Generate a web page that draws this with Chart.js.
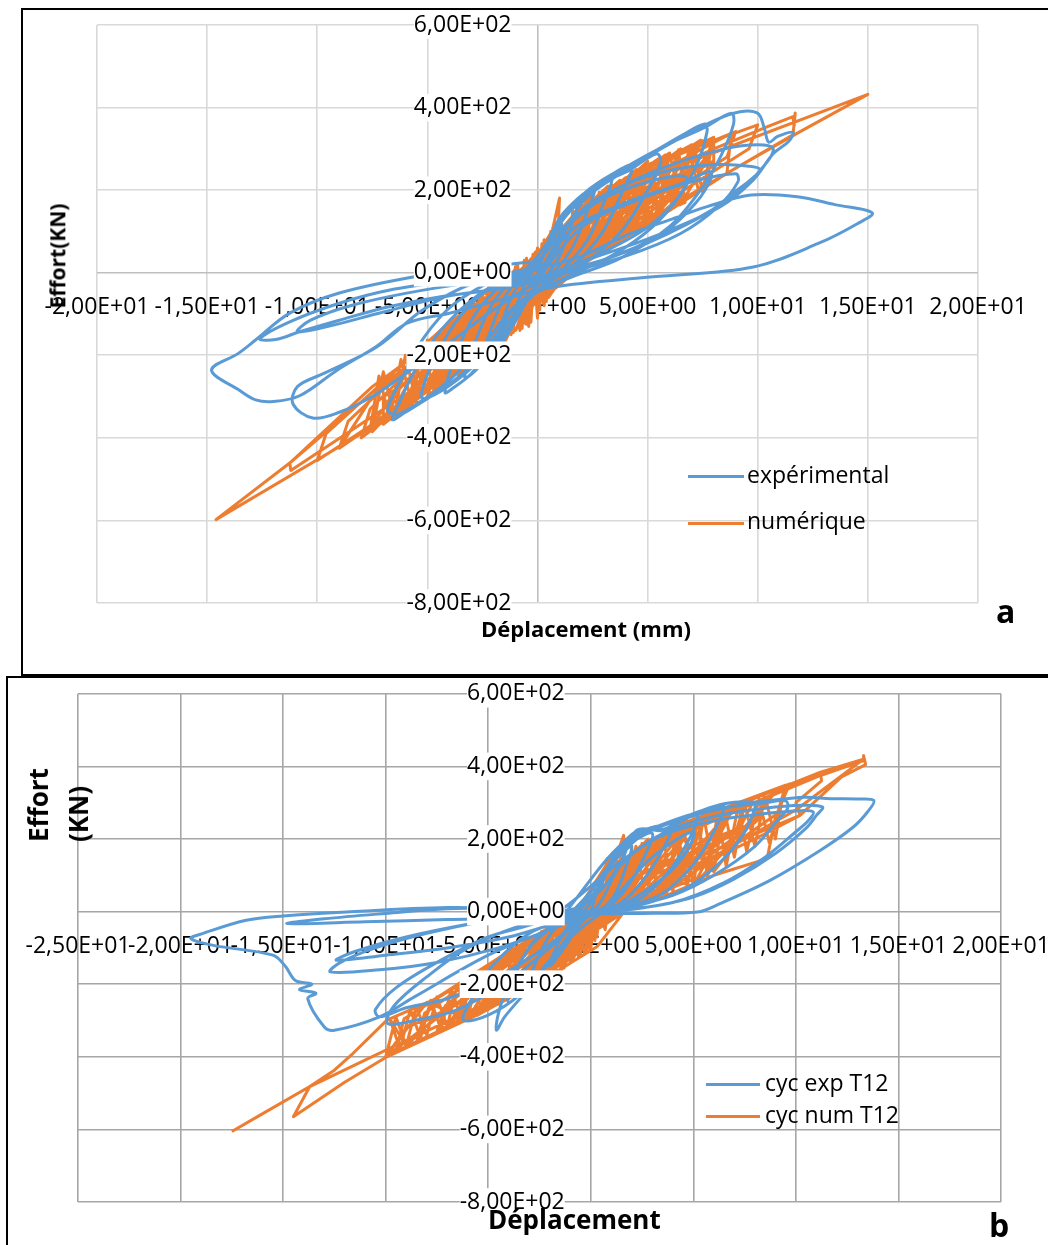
<!DOCTYPE html>
<html>
<head>
<meta charset="utf-8">
<script src="https://cdn.jsdelivr.net/npm/chart.js@4.4.1/dist/chart.umd.min.js"></script>
<style>
  body { margin: 0; width: 1048px; height: 1245px; overflow: hidden; background: #fff; position: relative; font-family: "Open Sans", sans-serif; color: #000; }
  .frame { position: absolute; border: 2px solid #000; box-sizing: border-box; }
  #frameA { left: 21px; top: 8px; width: 1100px; height: 668px; }
  #frameB { left: 6px; top: 676px; width: 1100px; height: 600px; }
  canvas { position: absolute; left: 0; }
  #chartA { top: 0; }
  #chartB { top: 677px; }
  .txt { position: absolute; white-space: nowrap; line-height: 1; }
  .bold { font-weight: 700; }
  .rot { transform: translate(-50%, -50%) rotate(-90deg); }
  .key { position: absolute; height: 3px; }
</style>
</head>
<body>
<div class="frame" id="frameA"></div>
<div class="frame" id="frameB"></div>
<canvas id="chartA" width="1048" height="660"></canvas>
<canvas id="chartB" width="1100" height="568"></canvas>

<!-- chart a captions -->
<div class="txt bold" style="left:481px; top:617px; font-size:22px;">Déplacement (mm)</div>
<div class="txt bold rot" style="left:58px; top:256px; font-size:21px; line-height:1.3;">Effort(KN)</div>
<div class="txt bold" style="left:996px; top:595px; font-size:32px;">a</div>
<div class="key" style="left:688px; top:475px; width:56px; background:#5b9bd5;"></div>
<div class="txt" style="left:747px; top:463px; font-size:23px;">expérimental</div>
<div class="key" style="left:688px; top:522px; width:56px; background:#ed7d31;"></div>
<div class="txt" style="left:747px; top:509px; font-size:23px;">numérique</div>

<!-- chart b captions -->
<div class="txt bold" style="left:488px; top:1206px; font-size:26px;">Déplacement</div>
<div class="txt bold rot" style="left:58px; top:805px; font-size:26px; line-height:40px; text-align:left; white-space:pre;">Effort
(KN)</div>
<div class="txt bold" style="left:989px; top:1209px; font-size:32px;">b</div>
<div class="key" style="left:706px; top:1083px; width:54px; background:#5b9bd5;"></div>
<div class="txt" style="left:765px; top:1071px; font-size:23px;">cyc exp T12</div>
<div class="key" style="left:706px; top:1115px; width:54px; background:#ed7d31;"></div>
<div class="txt" style="left:765px; top:1103px; font-size:23px;">cyc num T12</div>

<script>
// axis ranges [min, max, step]
const xTicksA = [-20, 20, 5];
const xTicksB = [-25, 20, 5];
const yTicks = [-800, 600, 200];

// chart a, experimental loops [displacement mm, effort kN]
const expA = [
  [0,0],[0.4,60],[0.8,100],[1.1,118],[0.9,80],[0.5,22],[0.1,-12],[-0.4,-55],[-0.9,-105],[-1.2,-128],[-1.0,-88],[-0.6,-30],[-0.2,4],
  [0.3,45],[0.8,108],[1.4,148],[1.8,163],[1.5,108],[1.0,40],[0.4,-8],[-0.3,-48],[-1.0,-118],[-1.6,-162],[-1.9,-174],[-1.6,-118],[-1.1,-50],[-0.5,-6],[0,12],
  [0.6,90],[1.3,150],[2.0,184],[2.6,204],[2.2,140],[1.6,62],[0.8,6],[0,-28],[-0.8,-98],[-1.6,-168],[-2.3,-204],[-2.6,-214],[-2.2,-150],[-1.6,-70],[-0.8,-12],[0,15],
  [0.8,112],[1.8,176],[2.7,210],[3.4,234],[3.0,168],[2.3,82],[1.2,12],[0,-30],[-1.0,-110],[-2.0,-186],[-2.8,-236],[-3.3,-254],[-2.9,-178],[-2.1,-80],[-1.1,-16],[0,20],
  [1.0,132],[2.2,196],[3.3,236],[4.3,260],[3.8,190],[3.0,102],[1.8,26],[0.5,-20],[-0.8,-82],[-1.9,-168],[-3.0,-244],[-3.8,-278],[-4.2,-290],[-3.7,-198],[-2.8,-98],[-1.5,-24],[0,22],
  [1.3,150],[2.6,210],[4.1,246],[5.4,288],[5.6,268],[4.9,190],[3.8,100],[2.2,26],[0.5,-24],[-1.2,-110],[-2.4,-198],[-3.7,-262],[-5.0,-304],[-5.3,-298],[-4.6,-200],[-3.4,-98],[-1.8,-24],[0,22],
  [1.5,158],[3.2,228],[5.0,284],[6.6,334],[7.6,360],[7.7,342],[7.3,270],[6.5,190],[5.2,110],[3.4,42],[1.2,-14],[-0.8,-70],[-2.0,-160],[-3.4,-244],[-4.8,-298],[-6.0,-338],[-6.6,-356],[-6.3,-318],[-5.6,-240],[-4.4,-140],[-2.6,-50],[-0.5,10],
  [1.5,150],[3.5,238],[5.8,308],[7.6,352],[8.8,386],[8.9,360],[8.3,280],[7.4,200],[6.0,112],[3.8,36],[1.2,-18],[-1.0,-80],[-2.5,-180],[-4.0,-260],[-5.2,-308],[-6.4,-344],[-6.8,-330],[-6.1,-250],[-5.2,-160],[-3.8,-76],[-1.5,-6],[0.5,28],
  [1.2,110],[3.0,180],[5.0,220],[6.5,235],[6.8,225],[6.2,170],[5.0,110],[3.0,50],[1.0,5],[0,-20],
  [1.5,100],[4.0,170],[6.5,215],[7.8,245],[7.9,230],[7.2,170],[5.8,100],[3.5,40],[1.0,0],[0,-25],
  [2.0,110],[4.5,175],[7.0,220],[9.0,240],[9.1,220],[8.2,160],[6.5,95],[4.0,40],[1.0,-5],[0,-20],
  [1.8,140],[4.0,214],[6.2,250],[8.2,262],[9.6,258],[10.1,250],[9.7,226],[9.05,200],[7.7,144],[5.3,80],[2.2,16],[0,-20],[-2.0,-42],[-4.0,-56],[-7.0,-95],[-9.5,-130],[-10.9,-143],[-10.3,-115],[-8.5,-80],[-6.0,-50],[-3.0,-24],[0,-4],
  [2.0,168],[4.0,248],[6.2,318],[8.0,368],[9.2,390],[10.0,386],[10.3,350],[10.5,316],[10.9,330],[11.6,340],[11.4,318],[10.7,288],[9.8,225],[8.3,160],[5.3,88],[2.2,30],[0,-12],[-2.0,-40],[-4.4,-58],[-6.7,-82],[-9.0,-115],[-10.8,-143],[-11.9,-162],[-12.6,-160],[-11.25,-119],[-9.0,-74],[-6.7,-42],[-3.7,-18],[-0.65,2],
  [1.5,120],[3.5,200],[6.0,260],[8.5,300],[10.0,310],[10.7,300],[10.3,260],[9.0,190],[6.5,110],[3.5,40],[0.5,-10],[-2.0,-90],[-4.0,-170],[-5.95,-243],[-7.5,-300],[-9.0,-338],[-10.2,-352],[-11.1,-318],[-10.9,-276],[-9.7,-244],[-7.3,-180],[-5.2,-90],[-2.9,-25],[0,10],
  [2.0,40],[4.0,90],[6.0,128],[7.7,160],[9.7,188],[11.8,184],[13.5,165],[15.2,145],[14.5,118],[12.8,72],[9.8,14],[5.25,-10],[0.7,-35],[-2.0,-70],[-4.0,-98],[-5.95,-123],[-7.3,-178],[-9.1,-236],[-10.8,-298],[-12.0,-312],[-12.8,-308],[-13.5,-286],[-14.8,-236],[-13.6,-196],[-12.8,-163],[-11.25,-98],[-9.0,-49],[-5.2,-6],[-2.0,16],[0,28]
];

// chart a, numerical response
const numA = [
  [0,0],[0.3,40],[-0.3,-60],[0.5,70],[-0.5,-80],[0.8,90],[-0.8,-100],[0.2,-10],[0.6,60],[-0.4,-30],
  [0.5,60],[1.0,181],[0.95,120],[0.6,30],[0.2,-20],[-0.4,-70],[-0.8,-120],[-0.6,-60],[-0.2,-10],[0.1,30],
  [0.6,70],[1.0,100],[1.8,150],[1.4,80],[1.5,95],[0.8,10],[0,-40],[-0.8,-90],[-1.5,-170],[-1.2,-100],[-1.3,-115],[-0.6,-30],[0,20],
  [1.0,90],[2.0,170],[1.6,110],[0.8,20],[0,-60],[-1.0,-110],[-2.0,-180],[-1.6,-120],[-0.8,-10],[0,40],
  [1.2,110],[1.8,140],[2.5,190],[2.0,110],[1.2,30],[0.5,-10],[0,-50],[-1.2,-120],[-2.2,-190],[-1.8,-110],[-1.0,-40],[-0.5,0],[0,30],
  [1.5,110],[3.0,200],[2.6,140],[1.2,30],[0,-60],[-1.5,-130],[-3.0,-215],[-2.6,-150],[-1.2,-15],[0,45],
  [-4,-260],[-3.8,-130],[-3.6,-245],[-3.4,-100],[-3.2,-225],[-3.0,-75],[-2.8,-210],[-2.6,-50],[-2.4,-195],[-2.2,-30],[-2.0,-180],[-1.8,-10],[-1.6,-165],[-1.4,0],[-1.2,-150],[-1.0,15],[-0.8,-140],[-0.6,30],[-0.4,-130],[-0.2,45],[0,-110],[0.2,70],[0.4,-70],[0.6,100],[0.8,-30],[1.0,130],
  [1.3,0],[1.6,150],[1.9,15],[2.2,175],[2.5,38],[2.8,195],[3.1,58],[3.4,212],[3.7,80],[4.0,230],[4.3,97],[4.6,250],[4.9,113],[5.2,266],[5.5,133],[5.8,284],[6.1,155],[6.4,298],[6.7,170],
  [1.1,60],[0.9,-20],[0.7,110],[0.5,-50],[0.3,80],[0.1,-90],[-0.1,50],[-0.3,-120],[-0.5,35],[-0.7,-135],[-0.9,20],[-1.1,-145],[-1.3,5],[-1.5,-158],[-1.7,-5],[-1.9,-172],[-2.1,-25],[-2.3,-188],[-2.5,-45],[-2.7,-203],[-2.9,-65],[-3.1,-220],[-3.3,-90],[-3.5,-235],[-3.7,-110],[-3.9,-255],
  [1.5,120],[2.2,160],[3.2,210],[2.6,130],[2.7,150],[1.5,40],[0,-55],[-1.5,-140],[-3.0,-230],[-2.4,-140],[-2.5,-160],[-1.3,-50],[0,35],
  [2.0,140],[4.0,230],[3.6,170],[1.6,45],[0,-55],[-1.8,-150],[-3.5,-238],[-3.1,-170],[-1.4,-30],[0,50],
  [1.8,130],[3.0,190],[3.75,224],[3.1,140],[1.8,45],[0.2,-50],[-1.8,-150],[-2.8,-205],[-3.6,-250],[-2.9,-160],[-1.6,-60],[0,40],
  [-7.5,-385],[-7,-240],[-6.5,-349],[-6,-200],[-5.5,-315],[-5,-163],[-4.5,-280],[-4,-120],[-3.5,-238],[-3,-70],[-2.5,-198],[-2,-20],[-1.5,-160],[-1,10],[-0.5,-125],[0,60],[0.5,-60],[1,130],[1.5,5],[2,170],[2.5,38],[3,200],[3.5,72],[4,230],[4.5,103],[5,262],[5.5,133],[6,290],[6.5,165],[7,310],[7.5,195],[8,328],
  [8,250],[7.3,200],[6.9,300],[6.2,165],[5.8,280],[5.1,130],[4.7,250],[4.2,95],[3.8,222],[3.2,62],[2.8,192],[2.2,28],[1.8,162],[1.2,-5],[0.8,120],[0.3,-80],[-0.2,45],[-0.7,-130],[-1.2,0],[-1.7,-168],[-2.2,-30],[-2.7,-205],[-3.2,-80],[-3.7,-245],[-4.2,-130],[-4.7,-288],[-5.2,-170],[-5.7,-320],[-6.2,-210],[-6.7,-355],[-7.2,-250],[-7.6,-380],
  [-6,-330],[-3,-70],[-4.5,-280],[-1,10],[-3,-215],[1,130],[-1,-140],[3,200],[0.5,-60],[4.5,246],[2,20],[6,290],[3.5,72],[7.5,320],[5,116],[8,300],[6.5,165],[4,230],[2.5,38],[1,120],[-0.5,-125],[-2.5,-45],[-4,-260],[-5.5,-180],[-7,-367],
  [-7,-300],[-5,-240],[-6,-270],[-4,-190],[-5,-230],[-3,-140],[-4,-180],[-2,-90],[-3,-130],[-1,-50],[-2,-80],[0,-20],[-1,-40],[1,60],[0,0],[2,100],[1,40],[3,130],[2,80],[4,160],[3,110],[5,190],[4,150],[6,220],[5,180],[7,250],[6,210],[8,270],
  [2.2,150],[4.5,246],[4.1,185],[1.8,50],[0,-60],[-2.2,-170],[-4.5,-280],[-4.1,-215],[-1.8,-45],[0,40],
  [2.0,135],[3.4,200],[4.5,250],[3.8,160],[3.9,175],[2.4,70],[0.4,-45],[-2.0,-160],[-4.2,-270],[-3.5,-180],[-3.6,-195],[-2.0,-80],[0,40],
  [2.8,180],[5.5,276],[5.1,210],[2.2,65],[0,-60],[-2.5,-180],[-5.0,-300],[-4.6,-235],[-2.0,-55],[0,45],
  [2.4,145],[5.0,270],[4.2,170],[2.8,80],[0.6,-40],[-2.4,-180],[-3.8,-240],[-5.2,-292],[-4.3,-200],[-2.5,-90],[0,45],
  [3.0,190],[6.0,290],[5.6,225],[2.4,72],[0,-55],[-3.0,-200],[-6.0,-330],[-5.6,-260],[-2.4,-65],[0,40],
  [2.8,160],[4.5,230],[5.8,285],[5.0,190],[5.1,205],[3.4,100],[0.8,-35],[-2.8,-190],[-6.0,-320],[-5.0,-230],[-5.1,-245],[-3.0,-110],[0,40],
  [3.5,210],[7.0,310],[6.6,245],[2.8,85],[0,-50],[-3.5,-220],[-7.0,-367],[-6.6,-300],[-2.8,-80],[0,35],
  [3.2,170],[6.5,300],[5.6,200],[3.8,110],[1.0,-30],[-3.2,-200],[-5.0,-280],[-6.7,-349],[-5.7,-250],[-3.5,-130],[0,35],
  [4.0,230],[8.0,328],[7.6,265],[3.2,95],[0,-50],[-4.0,-240],[-8.0,-400],[-7.6,-330],[-3.2,-100],[0,30],
  [3.6,185],[5.5,255],[7.4,321],[6.5,184],[5.0,116],[5.05,135],[1.0,-20],[-3.5,-210],[-7.5,-370],[-6.4,-280],[-6.5,-295],[-4.0,-150],[0,30],
  [4.5,245],[9.0,342],[8.6,280],[3.6,105],[0,-45],[-4.5,-260],[-9.0,-425],[-8.6,-360],[-3.6,-110],[0,30],
  [4.0,200],[8.8,338],[8.6,241],[6.0,160],[1.5,0],[-4.0,-230],[-9.0,-425],[-7.5,-300],[-4.5,-170],[0,40],
  [5.0,262],[10.0,358],[9.6,300],[4.0,110],[0,-45],[-5.0,-280],[-10.0,-455],[-9.6,-390],[-4.0,-120],[0,25],
  [4.5,215],[8.0,300],[10.5,355],[11.6,378],[11.65,355],[11.7,387],[11.6,334],[8.6,241],[5.0,123],[1.0,-10],[-5.0,-260],[-11.2,-479],[-11.25,-461],[-7.5,-276],[-3.0,-100],[0,20],
  [5.0,230],[15.0,432],[11.8,338],[8.6,241],[5.0,116],[0,-40],[-6.7,-349],[-14.6,-598],[-11.25,-461],[-7.5,-290],[-3.0,-110],[0,0]
];

// chart b, experimental loops (T12)
const expB = [
  [0,0],[0.4,70],[1.0,130],[1.6,165],[2.0,180],[1.7,120],[1.2,50],[0.6,10],[0,-5],[-0.6,-40],[-1.3,-100],[-2.0,-150],[-1.7,-100],[-1.1,-40],[-0.5,-10],
  [0.3,50],[1.0,130],[2.0,190],[3.0,215],[2.6,150],[1.8,70],[1.0,20],[0,-5],[-1.0,-60],[-2.0,-140],[-3.0,-200],[-2.6,-130],[-1.8,-50],[-0.8,-10],
  [0.4,70],[1.2,150],[2.2,210],[3.2,230],[4.0,240],[3.5,170],[2.6,90],[1.5,25],[0,-8],[-1.2,-80],[-2.5,-170],[-4.0,-250],[-3.6,-160],[-2.6,-70],[-1.2,-15],
  [0.5,90],[1.2,160],[2.24,222],[3.5,226],[4.4,250],[5.2,265],[4.8,200],[3.8,110],[2.4,35],[0.5,-5],[-1.5,-100],[-3.0,-210],[-4.2,-290],[-4.6,-327],[-4.5,-280],[-4.0,-200],[-3.0,-100],[-1.5,-20],
  [0.6,132],[1.6,190],[2.6,225],[4.0,245],[4.8,262],[6.0,285],[6.5,290],[6.0,220],[5.0,130],[3.5,50],[1.5,10],[0,-8],[-1.8,-120],[-3.5,-230],[-5.0,-285],[-6.2,-299],[-5.8,-240],[-4.8,-150],[-3.0,-60],[-1.0,-10],
  [0.8,120],[2.0,200],[3.5,240],[5.0,270],[6.5,297],[7.9,301],[8.0,285],[7.4,210],[6.2,130],[4.5,60],[2.0,12],[0,-5],[-2.0,-100],[-4.0,-190],[-6.5,-270],[-8.6,-300],[-9.9,-308],[-9.6,-260],[-8.0,-180],[-6.0,-100],[-3.5,-40],[-1.0,-5],
  [1.0,130],[2.5,210],[4.5,255],[6.5,285],[8.5,300],[9.5,305],[9.6,285],[9.2,258],[8.0,180],[6.0,100],[4.0,45],[1.5,10],[0,-5],[-2.0,-90],[-4.5,-180],[-7.0,-240],[-9.0,-265],[-10.3,-290],[-10.5,-270],[-9.5,-210],[-7.5,-140],[-5.0,-70],[-2.0,-15],
  [1.5,140],[3.5,210],[6.0,250],[8.5,270],[10.2,278],[10.85,274],[10.6,250],[10.0,220],[8.5,150],[6.5,80],[4.0,25],[1.0,0],[-1.5,-30],[-4.0,-70],[-7.0,-100],[-10.0,-120],[-12.4,-134],[-11.5,-110],[-9.0,-70],[-6.0,-35],[-3.0,-8],[0,0],
  [1.5,130],[3.5,215],[6.0,262],[8.5,285],[10.3,293],[11.3,288],[11.0,265],[10.5,230],[9.0,160],[7.0,90],[5.0,40],[2.5,10],[0,-5],[-2.0,-50],[-4.5,-100],[-7.5,-140],[-10.3,-160],[-12.7,-166],[-12.2,-140],[-10.5,-100],[-8.0,-60],[-5.0,-25],[-2.0,-5],[0.5,5],
  [1.5,60],[3.0,150],[5.0,220],[4.5,150],[3.0,70],[1.0,10],[-3.0,-15],[-7.0,-22],[-11.0,-28],[-14.8,-33],[-13.0,-20],[-10.0,-5],[-7.0,8],[-4.0,10],[-1.0,5],
  [0.5,60],[1.5,140],[2.24,224],[3.5,224],[4.8,260],[6.5,297],[7.9,301],[10.4,315],[11.7,311],[13.0,310],[13.8,306],[13.5,275],[12.8,233],[11.2,169],[8.74,86],[6.3,22],[5.2,-1],[2.5,-5],[0,-10],[-2.0,-50],[-5.0,-120],[-8.6,-235],[-10.3,-290],[-12.5,-327],[-13.0,-317],[-13.8,-240],[-13.4,-225],[-14.2,-215],[-13.6,-200],[-14.4,-190],[-14.9,-150],[-15.5,-120],[-18.4,-93],[-19.5,-74],[-18.9,-60],[-16.8,-24],[-15.0,-12],[-11.9,-1],[-7.0,11],[-4.0,8],[-1.0,2],[0,0]
];

// chart b, numerical response (T12)
const numB = [
  [0,0],[0.3,40],[-0.3,-50],[0.5,60],[-0.5,-70],[0.4,20],[-0.2,-30],
  [0.5,60],[0.8,146],[0.85,90],[0.5,20],[0,-30],[-0.5,-60],[-1.0,-110],[-0.8,-60],[-0.3,-10],[0.2,30],
  [0.8,80],[1.5,150],[1.2,90],[0.5,0],[0,-45],[-0.8,-110],[-1.5,-160],[-1.2,-110],[-0.5,-10],[0,30],
  [0.8,80],[1.6,210],[1.65,140],[1.2,60],[0.5,10],[0,-40],[-1.0,-110],[-1.8,-160],[-1.5,-100],[-0.8,-40],[0,10],
  [1.2,110],[2.5,185],[2.1,120],[1.0,10],[0,-50],[-1.2,-130],[-2.5,-195],[-2.1,-140],[-1.0,-30],[0,30],
  [-3,-205],[-2.8,-72],[-2.6,-195],[-2.4,-55],[-2.2,-184],[-2.0,-45],[-1.8,-172],[-1.6,-30],[-1.4,-160],[-1.2,-18],[-1.0,-140],[-0.8,-5],[-0.6,-125],[-0.4,10],[-0.2,-110],[0,40],[0.2,-80],[0.4,80],[0.6,-40],[0.8,120],[1.0,-20],[1.2,150],[1.4,0],[1.6,165],[1.8,12],[2.0,175],
  [2.1,100],[1.9,30],[1.7,140],[1.5,5],[1.3,120],[1.1,-15],[0.9,90],[0.7,-35],[0.5,50],[0.3,-70],[0.1,20],[-0.1,-100],[-0.3,0],[-0.5,-118],[-0.7,-10],[-0.9,-133],[-1.1,-25],[-1.3,-150],[-1.5,-35],[-1.7,-165],[-1.9,-48],[-2.1,-180],[-2.3,-60],[-2.5,-190],[-2.7,-68],[-2.9,-200],
  [1.2,100],[2.24,169],[2.8,200],[2.4,120],[1.5,40],[0.3,-30],[-1.2,-120],[-2.5,-190],[-2.1,-120],[-1.2,-50],[0,15],
  [1.8,140],[3.5,215],[3.1,150],[1.4,25],[0,-50],[-1.8,-150],[-3.5,-215],[-3.1,-160],[-1.4,-40],[0,25],
  [-10,-400],[-9.5,-290],[-9,-370],[-8.5,-262],[-8,-340],[-7.5,-235],[-7,-317],[-6.5,-200],[-6,-295],[-5.5,-168],[-5,-270],[-4.5,-132],[-4,-232],[-3.5,-97],[-3,-205],[-2.5,-62],[-2,-178],[-1.5,-28],[-1,-140],[-0.5,15],[0,-100],[0.5,100],[1,-20],[1.5,162],[2,20],[2.5,188],[3,35],[3.5,215],[4,55],[4.5,242],[5,70],[5.5,265],[6,110],[6.5,282],[7,150],[7.5,297],[8,180],[8.5,318],[9,200],
  [9.3,300],[8.7,190],[8.2,310],[7.6,165],[7.2,293],[6.6,125],[6.2,278],[5.7,95],[5.2,258],[4.7,65],[4.2,236],[3.7,50],[3.2,206],[2.7,30],[2.2,180],[1.7,10],[1.2,155],[0.7,-50],[0.2,60],[-0.3,-115],[-0.8,0],[-1.3,-155],[-1.8,-38],[-2.3,-190],[-2.8,-72],[-3.3,-215],[-3.8,-108],[-4.3,-245],[-4.8,-143],[-5.3,-275],[-5.8,-178],[-6.3,-300],[-6.8,-212],[-7.3,-325],[-7.8,-244],[-8.3,-348],[-8.8,-270],[-9.3,-378],[-9.8,-295],
  [-9,-370],[-5,-150],[-7,-317],[-3,-79],[-5,-270],[-1,-10],[-3,-205],[1,150],[-1,-140],[3,200],[1,-20],[5,255],[3,35],[7,290],[5,70],[9,330],[6,110],[4,230],[2,20],[0,40],[-2,-178],[-4,-115],[-6,-295],[-8,-250],[-10,-400],
  [-9,-320],[-7,-270],[-8,-300],[-6,-240],[-7,-265],[-5,-210],[-6,-235],[-4,-175],[-5,-200],[-3,-140],[-4,-165],[-2,-110],[-3,-130],[-1,-75],[-2,-95],[0,-30],[-1,-55],[1,65],[0,10],[2,100],[1,50],[3,120],[2,90],[4,145],[3,110],[5,165],[4,135],[6,190],[5,160],[7,220],[6,185],[8,245],
  [1.5,110],[2.6,160],[3.5,215],[3.0,130],[3.05,150],[2.0,60],[0.5,-20],[-1.5,-130],[-3.0,-220],[-2.6,-140],[-2.7,-160],[-1.5,-60],[0,20],
  [2.2,160],[4.5,245],[4.1,175],[1.8,30],[0,-55],[-2.2,-165],[-4.5,-250],[-4.1,-190],[-1.8,-50],[0,25],
  [1.8,120],[3.2,180],[4.7,251],[4.0,150],[2.6,70],[0.6,-15],[-2.0,-150],[-3.8,-226],[-3.0,-130],[-3.1,-150],[-1.6,-50],[0,25],
  [2.8,180],[5.5,265],[5.1,190],[2.2,35],[0,-55],[-2.8,-185],[-5.5,-285],[-5.1,-220],[-2.2,-60],[0,20],
  [2.0,130],[4.0,210],[5.5,262],[5.0,170],[3.5,80],[0.8,-10],[-2.4,-170],[-4.5,-255],[-3.8,-170],[-2.0,-70],[0,25],
  [3.2,195],[6.5,282],[6.1,210],[2.6,45],[0,-50],[-3.2,-200],[-6.5,-300],[-6.1,-240],[-2.6,-70],[0,20],
  [2.3,140],[4.5,220],[6.8,288],[6.0,190],[4.0,100],[3.5,40],[1.0,0],[-2.8,-185],[-5.4,-281],[-4.5,-180],[-4.6,-200],[-2.5,-80],[0,20],
  [3.8,215],[7.5,296],[7.1,225],[3.0,50],[0,-45],[-3.8,-225],[-7.5,-330],[-7.1,-260],[-3.0,-80],[0,15],
  [2.6,150],[5.0,235],[7.9,301],[7.0,200],[5.0,68],[5.05,90],[1.5,10],[-3.2,-200],[-6.2,-300],[-5.4,-200],[-3.0,-79],[0,13],
  [4.2,230],[8.5,325],[8.1,250],[3.4,55],[0,-45],[-4.2,-240],[-8.5,-360],[-8.1,-280],[-3.4,-95],[0,15],
  [3.0,160],[6.0,265],[9.7,352],[9.0,260],[8.6,146],[6.0,100],[3.5,40],[0.6,13],[-3.5,-210],[-7.0,-317],[-6.0,-230],[-3.5,-100],[0,15],
  [4.8,250],[9.5,348],[9.1,270],[3.8,60],[0,-40],[-4.8,-260],[-9.5,-385],[-9.1,-295],[-3.8,-110],[0,10],
  [3.5,180],[7.0,290],[11.2,384],[11.25,360],[10.0,300],[10.2,265],[8.0,200],[5.0,120],[1.0,10],[-4.0,-240],[-8.5,-360],[-7.7,-244],[-4.0,-110],[0,20],
  [4.0,200],[8.0,300],[11.2,375],[13.3,416],[13.3,430],[13.4,405],[12.2,370],[10.2,265],[7.0,190],[3.0,100],[0.3,-97],[-2.1,-180],[-5.4,-281],[-9.94,-400],[-12.0,-470],[-14.5,-565],[-13.7,-482],[-12.5,-437],[-11.6,-391],[-9.94,-299],[-7.7,-244],[-5.4,-161],[-3.0,-79],[-0.5,13],
  [2.0,120],[5.0,230],[8.0,300],[11.2,384],[13.3,420],[10.0,280],[5.0,120],[0,-60],[-5.0,-250],[-9.94,-380],[-13.7,-482],[-16.1,-560],[-17.5,-606]
];

const BLUE = '#5b9bd5';
const ORANGE = '#ed7d31';

// 6,00E+02 style labels
function sci(v) {
  if (v === 0) return '0,00E+00';
  const e = Math.floor(Math.log10(Math.abs(v)));
  const m = v / Math.pow(10, e);
  return m.toFixed(2).replace('.', ',') + 'E' + (e < 0 ? '-' : '+') + String(Math.abs(e)).padStart(2, '0');
}

const toXY = arr => arr.map(p => ({ x: p[0], y: p[1] }));

function series(data, color, tension) {
  return {
    data: toXY(data),
    showLine: true,
    borderColor: color,
    backgroundColor: color,
    borderWidth: 3,
    borderJoinStyle: 'round',
    pointRadius: 0,
    tension: tension,
    fill: false
  };
}

function buildOptions(xr, yLabelAt, gridColor, zeroColor, pad) {
  const tickFont = { family: 'Open Sans', size: 23 };
  const lineCol = c => (c.tick && c.tick.value === 0 ? zeroColor : gridColor);
  return {
    responsive: false,
    animation: false,
    layout: { padding: pad },
    plugins: { legend: { display: false }, tooltip: { enabled: false } },
    scales: {
      x: {
        type: 'linear',
        min: xr[0], max: xr[1],
        position: { y: 0 },
        grid: { color: lineCol, lineWidth: 1.6, drawTicks: false },
        border: { display: false },
        ticks: { stepSize: xr[2], autoSkip: false, maxRotation: 0, minRotation: 0, padding: 21, color: '#000', font: tickFont, callback: sci }
      },
      y: {
        type: 'linear',
        min: yTicks[0], max: yTicks[1],
        position: { x: yLabelAt },
        grid: { color: lineCol, lineWidth: 1.6, drawTicks: false },
        border: { display: false },
        ticks: { stepSize: yTicks[2], z: 1, showLabelBackdrop: true, backdropColor: '#fff', backdropPadding: 0, color: '#000', font: tickFont, callback: sci }
      }
    }
  };
}

new Chart(document.getElementById('chartA'), {
  type: 'scatter',
  data: { datasets: [series(expA, BLUE, 0.35), series(numA, ORANGE, 0)] },
  options: buildOptions(xTicksA, -1.18, '#d9d9d9', '#bfbfbf', { left: 97, top: 25, right: 70, bottom: 57 })
});

new Chart(document.getElementById('chartB'), {
  type: 'scatter',
  data: { datasets: [series(expB, BLUE, 0.35), series(numB, ORANGE, 0)] },
  options: buildOptions(xTicksB, -1.27, '#a6a6a6', '#a6a6a6', { left: 78, top: 16, right: 99, bottom: 43 })
});
</script>
</body>
</html>
